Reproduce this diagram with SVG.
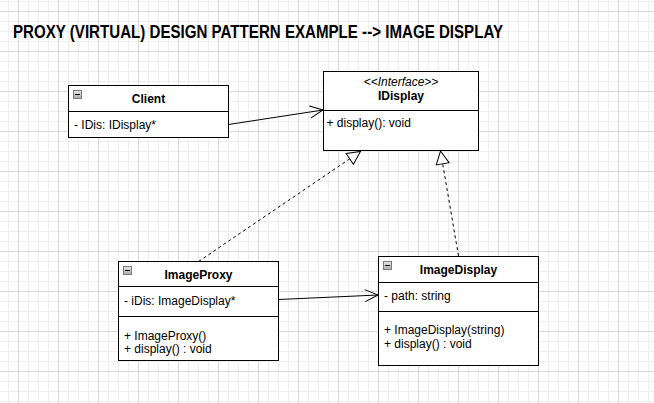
<svg xmlns="http://www.w3.org/2000/svg" width="654" height="403" viewBox="0 0 654 403">
  <style>
    .box { fill: #ffffff; stroke: #000000; stroke-width: 1; }
    .sep { stroke: #000000; stroke-width: 1; }
    .t { font-family: "Liberation Sans", Arial, Helvetica, sans-serif; font-size: 12px; fill: #000000; }
    .b { font-weight: bold; text-anchor: middle; }
    .i { font-style: italic; text-anchor: middle; }
    .assoc { fill: none; stroke: #000000; stroke-width: 1; marker-end: url(#open); }
    .real { fill: none; stroke: #000000; stroke-width: 1; stroke-dasharray: 3 3; marker-end: url(#tri); }
    .icon { fill: url(#ig); stroke: #7a7a7a; stroke-width: 1; }
  </style>
  <defs>
    <pattern id="minor" patternUnits="userSpaceOnUse" x="8" y="1" width="10" height="10">
      <path d="M0.5,0 V10 M0,0.5 H10" stroke="#eeeeee" stroke-width="1" fill="none"/>
    </pattern>
    <pattern id="major" patternUnits="userSpaceOnUse" x="18" y="11" width="40" height="40">
      <path d="M0.5,0 V40 M0,0.5 H40" stroke="#d9d9d9" stroke-width="1" fill="none"/>
    </pattern>
    <linearGradient id="ig" x1="0" y1="0" x2="0" y2="1">
      <stop offset="0" stop-color="#e8e8e8"/>
      <stop offset="1" stop-color="#a9a9a9"/>
    </linearGradient>
    <marker id="open" markerUnits="userSpaceOnUse" markerWidth="16" markerHeight="16" refX="13" refY="7" orient="auto" overflow="visible">
      <path d="M0,1 L13,7 L0,13" fill="none" stroke="#000000" stroke-width="1" stroke-dasharray="none"/>
    </marker>
    <marker id="tri" markerUnits="userSpaceOnUse" markerWidth="16" markerHeight="16" refX="14" refY="7.5" orient="auto" overflow="visible">
      <path d="M1,1 L14,7.5 L1,14 Z" fill="#ffffff" stroke="#000000" stroke-width="1" stroke-dasharray="none"/>
    </marker>
  </defs>

  <rect width="654" height="403" fill="#ffffff"/>
  <rect width="654" height="403" fill="url(#minor)"/>
  <rect width="654" height="403" fill="url(#major)"/>

  <text x="13" y="38" font-family="'Liberation Sans', Arial, Helvetica, sans-serif" font-size="18.5" font-weight="bold" textLength="490" lengthAdjust="spacingAndGlyphs">PROXY (VIRTUAL) DESIGN PATTERN EXAMPLE --&gt; IMAGE DISPLAY</text>

  <g id="connectors">
    <path class="assoc" d="M228.5,124.5 L323,110"/>
    <path class="assoc" d="M278.5,299.5 L378,295"/>
    <path class="real" d="M198.5,261.5 L360.5,151.5"/>
    <path class="real" d="M458.5,256 L440.5,151"/>
  </g>

  <g id="client">
    <rect class="box" x="68.5" y="85.5" width="160" height="52"/>
    <line class="sep" x1="68.5" y1="111.5" x2="228.5" y2="111.5"/>
    <rect class="icon" x="73.5" y="90.5" width="8" height="8"/>
    <line x1="75" y1="94.5" x2="80" y2="94.5" stroke="#000" stroke-width="1"/>
    <text class="t b" x="148.5" y="102.5">Client</text>
    <text class="t" x="74" y="128.5">- IDis: IDisplay*</text>
  </g>

  <g id="idisplay">
    <rect class="box" x="323.5" y="71.5" width="155" height="79"/>
    <line class="sep" x1="323.5" y1="110.5" x2="478.5" y2="110.5"/>
    <text class="t i" x="401" y="86">&lt;&lt;Interface&gt;&gt;</text>
    <text class="t b" x="401" y="99.5">IDisplay</text>
    <text class="t" x="326.5" y="126.5">+ display(): void</text>
  </g>

  <g id="imageproxy">
    <rect class="box" x="118.5" y="261.5" width="160" height="99"/>
    <line class="sep" x1="118.5" y1="286.5" x2="278.5" y2="286.5"/>
    <line class="sep" x1="118.5" y1="316.5" x2="278.5" y2="316.5"/>
    <rect class="icon" x="123.5" y="266.5" width="8" height="8"/>
    <line x1="125" y1="270.5" x2="130" y2="270.5" stroke="#000" stroke-width="1"/>
    <text class="t b" x="198.5" y="278.5">ImageProxy</text>
    <text class="t" x="124" y="305">- iDis: ImageDisplay*</text>
    <text class="t" x="124" y="339.5">+ ImageProxy()</text>
    <text class="t" x="124" y="353">+ display() : void</text>
  </g>

  <g id="imagedisplay">
    <rect class="box" x="378.5" y="256.5" width="160" height="109"/>
    <line class="sep" x1="378.5" y1="282.5" x2="538.5" y2="282.5"/>
    <line class="sep" x1="378.5" y1="311.5" x2="538.5" y2="311.5"/>
    <rect class="icon" x="383.5" y="261.5" width="8" height="8"/>
    <line x1="385" y1="265.5" x2="390" y2="265.5" stroke="#000" stroke-width="1"/>
    <text class="t b" x="458.5" y="273.5">ImageDisplay</text>
    <text class="t" x="384" y="300">- path: string</text>
    <text class="t" x="384" y="333.5">+ ImageDisplay(string)</text>
    <text class="t" x="384" y="347.5">+ display() : void</text>
  </g>
</svg>
